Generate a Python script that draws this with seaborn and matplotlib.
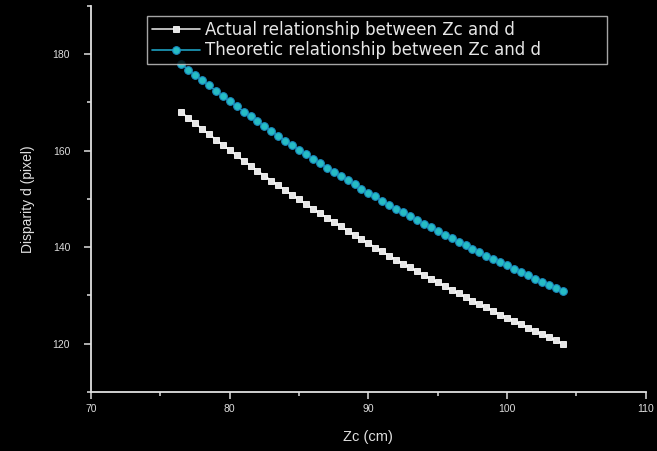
import numpy as np
import pandas as pd
import seaborn as sns
import matplotlib.pyplot as plt
from matplotlib.ticker import MultipleLocator

# Zc (cm) sample positions
zc = [76.5, 77, 77.5, 78, 78.5, 79, 79.5, 80, 80.5, 81, 81.5, 82, 82.5, 83,
      83.5, 84, 84.5, 85, 85.5, 86, 86.5, 87, 87.5, 88, 88.5, 89, 89.5, 90,
      90.5, 91, 91.5, 92, 92.5, 93, 93.5, 94, 94.5, 95, 95.5, 96, 96.5, 97,
      97.5, 98, 98.5, 99, 99.5, 100, 100.5, 101, 101.5, 102, 102.5, 103,
      103.5, 104]

# measured disparity (pixel)
d_actual = [168.0, 166.8, 165.7, 164.5, 163.4, 162.3, 161.2, 160.1, 159.0,
            157.9, 156.9, 155.8, 154.8, 153.8, 152.8, 151.8, 150.8, 149.9,
            148.9, 148.0, 147.0, 146.1, 145.2, 144.3, 143.4, 142.5, 141.6,
            140.8, 139.9, 139.1, 138.2, 137.4, 136.6, 135.8, 135.0, 134.2,
            133.4, 132.7, 131.9, 131.1, 130.4, 129.6, 128.9, 128.2, 127.5,
            126.8, 126.0, 125.4, 124.7, 124.0, 123.3, 122.6, 122.0, 121.3,
            120.7, 120.0]

# theoretic disparity (pixel)
d_theory = [178.0, 176.8, 175.7, 174.6, 173.5, 172.4, 171.3, 170.2, 169.2,
            168.1, 167.1, 166.1, 165.1, 164.1, 163.1, 162.1, 161.2, 160.2,
            159.3, 158.3, 157.4, 156.5, 155.6, 154.7, 153.9, 153.0, 152.1,
            151.3, 150.5, 149.6, 148.8, 148.0, 147.2, 146.4, 145.6, 144.9,
            144.1, 143.3, 142.6, 141.8, 141.1, 140.4, 139.7, 138.9, 138.2,
            137.5, 136.9, 136.2, 135.5, 134.8, 134.2, 133.5, 132.8, 132.2,
            131.6, 130.9]

labels = ["Actual relationship between Zc and d",
          "Theoretic relationship between Zc and d"]

df = pd.DataFrame({"zc": zc, "actual": d_actual, "theory": d_theory})

sns.set_style("dark")
plt.rcParams["font.family"] = ["Liberation Sans", "DejaVu Sans"]

fig = plt.figure(figsize=(6.57, 4.51), dpi=100, facecolor="black")
ax = fig.add_axes([0.1385, 0.131, 0.8445, 0.856])
ax.set_facecolor("black")

sns.lineplot(data=df, x="zc", y="actual", ax=ax, color="#dcdcdc", lw=1.2,
             marker="s", markersize=4.8, markerfacecolor="#e6e6e6",
             markeredgecolor="#ffffff", markeredgewidth=0.6, label=labels[0])
sns.lineplot(data=df, x="zc", y="theory", ax=ax, color="#1d9fc0", lw=1.2,
             marker="o", markersize=5.5, markerfacecolor="#26bcc4",
             markeredgecolor="#1a8cc0", markeredgewidth=0.8, label=labels[1])

ax.set_xlim(70, 110)
ax.set_ylim(110, 190)
ax.xaxis.set_major_locator(MultipleLocator(10))
ax.xaxis.set_minor_locator(MultipleLocator(5))
ax.yaxis.set_major_locator(MultipleLocator(20))
ax.yaxis.set_minor_locator(MultipleLocator(10))

for s in ["top", "right"]:
    ax.spines[s].set_visible(False)
for s in ["left", "bottom"]:
    ax.spines[s].set_color("#e0e0e0")
    ax.spines[s].set_linewidth(1.3)

ax.grid(False)
ax.tick_params(which="both", colors="#e0e0e0", direction="out", width=1.1,
               labelsize=7.5, labelcolor="#dddddd", left=True, bottom=True)
ax.tick_params(which="major", length=5)
ax.tick_params(which="minor", length=3)
ax.tick_params(axis="y", pad=10)

ax.set_xlabel("Zc (cm)", color="#e0e0e0", fontsize=10.5, labelpad=12)
ax.set_ylabel("Disparity d (pixel)", color="#e0e0e0", fontsize=10, labelpad=13)

# legend box spans roughly x 147..607 px, top at 16 px
leg = ax.legend(loc="upper left", bbox_to_anchor=(0.101, 0.0, 0.829, 0.974),
                mode="expand", frameon=True,
                fancybox=False, facecolor="black", edgecolor="#cfcfcf",
                prop={"family": "DejaVu Sans", "size": 12},
                handlelength=2.9, borderpad=0.3, borderaxespad=0,
                labelspacing=0.15, handletextpad=0.3)
leg.get_frame().set_linewidth(1.0)
for t in leg.get_texts():
    t.set_color("#e6e6e6")

fig.savefig("out.png", dpi=100, facecolor="black")
